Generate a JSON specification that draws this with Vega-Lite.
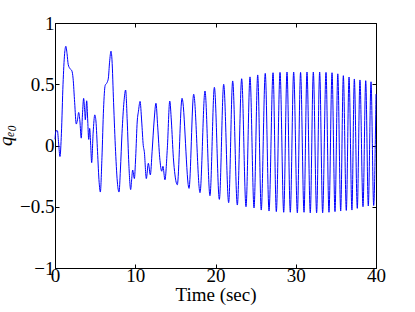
{
  "$schema": "https://vega.github.io/schema/vega-lite/v6.json",
  "width": 321,
  "height": 245,
  "autosize": {"type": "none"},
  "padding": {"left": 55, "top": 23, "right": 39, "bottom": 44},
  "background": "white",
  "data": {"values": [
    {"t": 0, "q": 0.05}, {"t": 0.12, "q": 0.12}, {"t": 0.3, "q": 0.12}, {"t": 0.45, "q": 0.02}, {"t": 0.62, "q": -0.09},
    {"t": 0.8, "q": 0.1}, {"t": 1.0, "q": 0.5}, {"t": 1.2, "q": 0.75}, {"t": 1.35, "q": 0.81}, {"t": 1.5, "q": 0.75},
    {"t": 1.65, "q": 0.66}, {"t": 1.9, "q": 0.625}, {"t": 2.1, "q": 0.61}, {"t": 2.25, "q": 0.55}, {"t": 2.45, "q": 0.35},
    {"t": 2.65, "q": 0.175}, {"t": 2.8, "q": 0.21}, {"t": 2.95, "q": 0.27}, {"t": 3.1, "q": 0.2}, {"t": 3.27, "q": 0.06},
    {"t": 3.42, "q": 0.25}, {"t": 3.57, "q": 0.385}, {"t": 3.7, "q": 0.28}, {"t": 3.78, "q": 0.21}, {"t": 3.95, "q": 0.365},
    {"t": 4.08, "q": 0.2}, {"t": 4.2, "q": 0.05}, {"t": 4.32, "q": 0.14}, {"t": 4.45, "q": 0.0}, {"t": 4.57, "q": -0.14},
    {"t": 4.75, "q": 0.1}, {"t": 4.96, "q": 0.25}, {"t": 5.1, "q": 0.2}, {"t": 5.3, "q": -0.05}, {"t": 5.5, "q": -0.3},
    {"t": 5.65, "q": -0.38}, {"t": 5.85, "q": -0.1}, {"t": 6.05, "q": 0.3}, {"t": 6.25, "q": 0.49}, {"t": 6.5, "q": 0.515},
    {"t": 6.65, "q": 0.55}, {"t": 6.8, "q": 0.68}, {"t": 6.98, "q": 0.77}, {"t": 7.1, "q": 0.7}, {"t": 7.3, "q": 0.35},
    {"t": 7.55, "q": -0.05}, {"t": 7.8, "q": -0.32}, {"t": 7.98, "q": -0.38}, {"t": 8.15, "q": -0.2}, {"t": 8.35, "q": 0.1},
    {"t": 8.6, "q": 0.36}, {"t": 8.8, "q": 0.453}, {"t": 9.0, "q": 0.2}, {"t": 9.2, "q": -0.15}, {"t": 9.43, "q": -0.36},
    {"t": 9.55, "q": -0.28}, {"t": 9.68, "q": -0.2}, {"t": 9.89, "q": -0.27}, {"t": 10.05, "q": -0.1}, {"t": 10.25, "q": 0.2},
    {"t": 10.4, "q": 0.28}, {"t": 10.6, "q": 0.36}, {"t": 10.8, "q": 0.2}, {"t": 11.0, "q": 0.0}, {"t": 11.13, "q": -0.05},
    {"t": 11.38, "q": -0.27}, {"t": 11.63, "q": -0.145}, {"t": 11.88, "q": -0.24}, {"t": 12.1, "q": -0.05}, {"t": 12.35, "q": 0.2},
    {"t": 12.58, "q": 0.345}, {"t": 12.8, "q": 0.15}, {"t": 13.05, "q": -0.1}, {"t": 13.3, "q": -0.21}, {"t": 13.45, "q": -0.17},
    {"t": 13.7, "q": -0.28}, {"t": 14.0, "q": -0.02}, {"t": 14.3, "q": 0.363}, {"t": 14.5, "q": 0.2}, {"t": 14.75, "q": -0.1},
    {"t": 14.95, "q": -0.24}, {"t": 15.24, "q": -0.32}, {"t": 15.83, "q": 0.385}, {"t": 16.7, "q": -0.35}, {"t": 17.28, "q": 0.418},
    {"t": 18.07, "q": -0.385}, {"t": 18.69, "q": 0.445}, {"t": 19.31, "q": -0.41}, {"t": 19.86, "q": 0.475}, {"t": 20.48, "q": -0.44},
    {"t": 21.02, "q": 0.5}, {"t": 21.64, "q": -0.467}, {"t": 22.14, "q": 0.527}, {"t": 22.72, "q": -0.486}, {"t": 23.26, "q": 0.545},
    {"t": 23.8, "q": -0.5}, {"t": 24.3, "q": 0.56}, {"t": 24.8, "q": -0.51}, {"t": 25.26, "q": 0.576}, {"t": 25.7, "q": -0.527},
    {"t": 26.2, "q": 0.589}, {"t": 26.67, "q": -0.535}, {"t": 27.17, "q": 0.594}, {"t": 27.58, "q": -0.54}, {"t": 28.04, "q": 0.597},
    {"t": 28.5, "q": -0.545}, {"t": 28.91, "q": 0.6}, {"t": 29.32, "q": -0.545}, {"t": 29.74, "q": 0.6}, {"t": 30.2, "q": -0.55},
    {"t": 30.6, "q": 0.597}, {"t": 31.03, "q": -0.545}, {"t": 31.4, "q": 0.6}, {"t": 31.81, "q": -0.55}, {"t": 32.19, "q": 0.6},
    {"t": 32.6, "q": -0.55}, {"t": 32.98, "q": 0.6}, {"t": 33.35, "q": -0.55}, {"t": 33.77, "q": 0.597}, {"t": 34.14, "q": -0.545},
    {"t": 34.52, "q": 0.594}, {"t": 34.89, "q": -0.54}, {"t": 35.24, "q": 0.585}, {"t": 35.6, "q": -0.535}, {"t": 35.93, "q": 0.57},
    {"t": 36.3, "q": -0.53}, {"t": 36.64, "q": 0.559}, {"t": 37.0, "q": -0.527}, {"t": 37.3, "q": 0.543}, {"t": 37.67, "q": -0.513},
    {"t": 38.0, "q": 0.535}, {"t": 38.38, "q": -0.5}, {"t": 38.72, "q": 0.529}, {"t": 39.04, "q": -0.494}, {"t": 39.38, "q": 0.52},
    {"t": 39.71, "q": -0.49}, {"t": 40.0, "q": 0.42}
  ]},
  "layer": [
    {
      "mark": {"type": "line", "color": "#0000ff", "strokeWidth": 1, "interpolate": "monotone"},
      "encoding": {
        "x": {"field": "t", "type": "quantitative", "scale": {"domain": [0, 40], "nice": false, "zero": false},
          "axis": {"orient": "bottom", "values": [0, 10, 20, 30, 40], "format": "d", "tickSize": -4, "labelPadding": 2, "labelFlush": false, "labelOverlap": false, "title": "Time (sec)", "titlePadding": 0}},
        "y": {"field": "q", "type": "quantitative", "scale": {"domain": [-1, 1], "nice": false, "zero": false},
          "axis": {"orient": "left", "values": [-1, -0.5, 0, 0.5, 1], "format": ".1~f", "tickSize": -4, "labelPadding": 5, "labelFlush": false, "labelOverlap": false, "title": "qₑ₀", "titleFontStyle": "italic", "titleX": -40, "titleY": 112}}
      }
    },
    {
      "mark": {"type": "line", "opacity": 0},
      "encoding": {
        "x": {"field": "t", "type": "quantitative", "axis": {"orient": "top", "values": [0, 10, 20, 30, 40], "tickSize": -4, "labels": false, "title": null, "domain": false}},
        "y": {"field": "q", "type": "quantitative", "axis": {"orient": "right", "values": [-1, -0.5, 0, 0.5, 1], "tickSize": -4, "labels": false, "title": null, "domain": false}}
      }
    }
  ],
  "resolve": {"axis": {"x": "independent", "y": "independent"}},
  "config": {
    "view": {"stroke": "black", "strokeWidth": 1},
    "axis": {"grid": false, "labelFont": "Liberation Serif", "titleFont": "Liberation Serif", "labelFontSize": 19, "titleFontSize": 19,
      "labelColor": "black", "titleColor": "black", "domainColor": "black", "tickColor": "black", "titleFontWeight": "normal", "domainWidth": 1, "tickWidth": 1}
  }
}
